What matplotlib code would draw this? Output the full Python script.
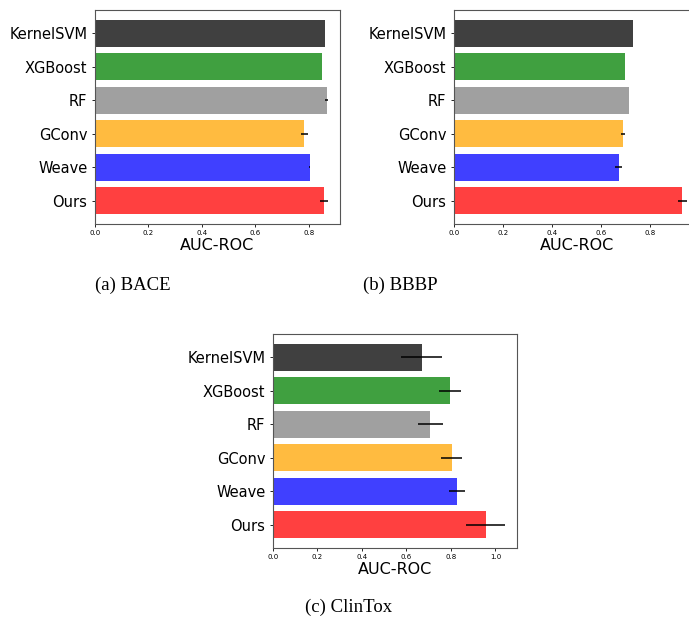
import matplotlib
matplotlib.use("Agg")
import matplotlib.pyplot as plt
import numpy as np

methods = ["KernelSVM", "XGBoost", "RF", "GConv", "Weave", "Ours"]
colors = ["black", "green", "gray", "orange", "blue", "red"]

bace_mean = [0.861, 0.849, 0.867, 0.783, 0.804, 0.857]
bace_err = [0.0, 0.0, 0.005, 0.014, 0.002, 0.016]

bbbp_mean = [0.730, 0.696, 0.713, 0.689, 0.671, 0.931]
bbbp_err = [0.0, 0.0, 0.0, 0.009, 0.014, 0.020]

clintox_mean = [0.668, 0.795, 0.708, 0.803, 0.828, 0.956]
clintox_err = [0.091, 0.049, 0.055, 0.046, 0.036, 0.089]

captions = ["(a) BACE", "(b) BBBP", "(c) ClinTox"]

W, H = 689, 621
fig = plt.figure(figsize=(W / 100, H / 100), dpi=100)

def make_ax(left, top, width, height):
    return fig.add_axes([left / W, 1 - (top + height) / H, width / W, height / H])

panels = [
    (make_ax(95, 10, 245, 214), bace_mean, bace_err),
    (make_ax(454, 10, 245, 214), bbbp_mean, bbbp_err),
    (make_ax(273, 334, 244, 214), clintox_mean, clintox_err),
]

for ax, mean, err in panels:
    y = np.arange(len(methods))
    ax.barh(y, mean, xerr=err, color=colors, alpha=0.75, height=0.8,
            error_kw=dict(ecolor="black", elinewidth=1.1, capsize=0))
    ax.set_yticks(y)
    ax.set_yticklabels(methods, fontsize=10.5)
    ax.invert_yaxis()
    ax.tick_params(axis="x", labelsize=5, length=2.5, width=0.6, pad=2)
    ax.tick_params(axis="y", length=2.5, width=0.6, pad=3)
    ax.set_xlabel("AUC-ROC", fontsize=11.5, labelpad=1)
    for s in ax.spines.values():
        s.set_linewidth(0.8)
        s.set_color("#555555")

cap_font = dict(family="Liberation Serif", fontsize=13.5, ha="center", va="center")
fig.text(133 / W, 1 - 285 / H, captions[0], **cap_font)
fig.text(400 / W, 1 - 285 / H, captions[1], **cap_font)
fig.text(349 / W, 1 - 607 / H, captions[2], **cap_font)

fig.savefig("out.png", dpi=100)
